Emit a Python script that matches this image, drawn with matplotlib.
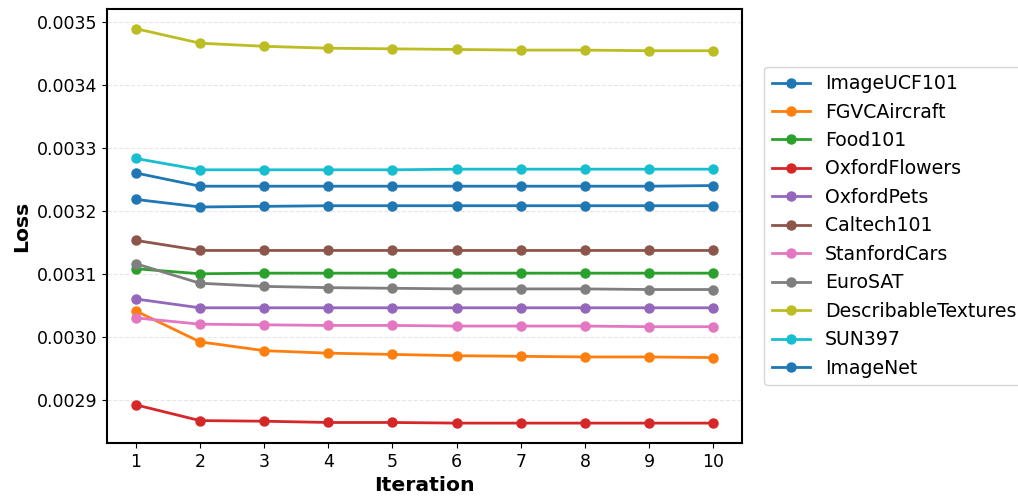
import matplotlib
matplotlib.use('Agg')
import matplotlib.pyplot as plt

iterations = list(range(1, 11))

# loss per dataset
image_ucf101 = [0.003261, 0.003240, 0.003240, 0.003240, 0.003240, 0.003240, 0.003240, 0.003240, 0.003240, 0.003241]
fgvc_aircraft = [0.003042, 0.002993, 0.002979, 0.002975, 0.002973, 0.002971, 0.002970, 0.002969, 0.002969, 0.002968]
food101 = [0.003109, 0.003101, 0.003102, 0.003102, 0.003102, 0.003102, 0.003102, 0.003102, 0.003102, 0.003102]
oxford_flowers = [0.002893, 0.002868, 0.002867, 0.002865, 0.002865, 0.002864, 0.002864, 0.002864, 0.002864, 0.002864]
oxford_pets = [0.003061, 0.003047, 0.003047, 0.003047, 0.003047, 0.003047, 0.003047, 0.003047, 0.003047, 0.003047]
caltech101 = [0.003154, 0.003138, 0.003138, 0.003138, 0.003138, 0.003138, 0.003138, 0.003138, 0.003138, 0.003138]
stanford_cars = [0.003031, 0.003021, 0.003020, 0.003019, 0.003019, 0.003018, 0.003018, 0.003018, 0.003017, 0.003017]
eurosat = [0.003117, 0.003086, 0.003081, 0.003079, 0.003078, 0.003077, 0.003077, 0.003077, 0.003076, 0.003076]
describable_textures = [0.003490, 0.003467, 0.003462, 0.003459, 0.003458, 0.003457, 0.003456, 0.003456, 0.003455, 0.003455]
sun397 = [0.003284, 0.003266, 0.003266, 0.003266, 0.003266, 0.003267, 0.003267, 0.003267, 0.003267, 0.003267]
imagenet = [0.003219, 0.003207, 0.003208, 0.003209, 0.003209, 0.003209, 0.003209, 0.003209, 0.003209, 0.003209]

names = ['ImageUCF101', 'FGVCAircraft', 'Food101', 'OxfordFlowers', 'OxfordPets',
         'Caltech101', 'StanfordCars', 'EuroSAT', 'DescribableTextures', 'SUN397', 'ImageNet']
series = [image_ucf101, fgvc_aircraft, food101, oxford_flowers, oxford_pets,
          caltech101, stanford_cars, eurosat, describable_textures, sun397, imagenet]

fig, ax = plt.subplots(figsize=(10.18, 4.97), dpi=100)
fig.subplots_adjust(left=0.105, right=0.729, top=0.982, bottom=0.109)

for name, vals in zip(names, series):
    ax.plot(iterations, vals, marker='o', linewidth=2, markersize=6.5, label=name)

ax.set_xticks(iterations)
ax.tick_params(labelsize=12.5)
ax.set_xlabel('Iteration', fontsize=14.7, fontweight='bold', labelpad=4)
ax.set_ylabel('Loss', fontsize=14.7, fontweight='bold')
ax.yaxis.grid(True, linestyle='--', alpha=0.3)
for s in ax.spines.values():
    s.set_linewidth(1.5)

ax.legend(loc='center left', bbox_to_anchor=(1.02, 0.5), fontsize=13.6)

plt.savefig('out.png', dpi=100)
